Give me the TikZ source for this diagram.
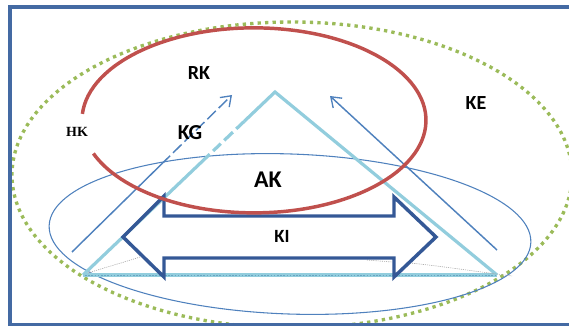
\documentclass[tikz,border=0pt]{standalone}
\usepackage{fontspec}
\setmainfont{Carlito}
\newfontfamily\serifb{Liberation Serif}
\usetikzlibrary{arrows.meta,calc}
\definecolor{frameblue}{RGB}{68,106,163}
\definecolor{kegreen}{RGB}{155,187,89}
\definecolor{rkred}{RGB}{192,80,77}
\definecolor{tribl}{RGB}{146,205,221}
\definecolor{arrdark}{RGB}{52,88,150}
\definecolor{thinbl}{RGB}{79,129,189}
\definecolor{basedot}{RGB}{105,165,195}
\begin{document}
\begin{tikzpicture}[x=0.75pt,y=-0.75pt,
  lbl/.style={font=\bfseries\fontsize{15}{17}\selectfont, inner sep=0pt},
  tristy/.style={draw=tribl, line width=2.4pt, line cap=butt},
  thinarrow/.style={draw=thinbl, line width=1.1pt, -{Straight Barb[length=7pt,width=10pt,line width=1pt]}},
  marks/.style={draw=gray!70, line width=0.45pt, dash pattern=on 0.8pt off 0.8pt}
]
\useasboundingbox (0,0) rectangle (569,328);
\begin{scope}
\clip (0,0) rectangle (569,328);
% outer frame
\draw[frameblue, line width=2.6pt] (10,7) rectangle (620,324.5);
\begin{scope}
\clip (12,9) rectangle (569,322.5);
% KE dotted ellipse
\draw[kegreen, line width=2.5pt, dash pattern=on 2.5pt off 3.1pt] (292,175) ellipse [x radius=280, y radius=153];
\end{scope}
% thin blue ellipse
\draw[thinbl, line width=0.8pt, rotate around={-2:(290,234)}] (290,234) ellipse [x radius=241, y radius=80];
% triangle
\coordinate (tl) at (83,275);
\coordinate (tr) at (497,275);
\coordinate (tt) at (275,92);
\coordinate (p1) at ($(tl)!0.66!(tt)$);
\coordinate (p2) at ($(tl)!0.84!(tt)$);
\draw[tristy] (p2) -- (tt) -- (tr);
\draw[tristy] (tl) -- (p1);
\draw[tristy, dash pattern=on 0pt off 3.5pt on 8pt off 3.5pt on 9pt off 3.5pt on 30pt] (p1) -- (p2);
\draw[tristy] (tl) -- (tr);
\draw[basedot, line width=0.5pt, dash pattern=on 1.2pt off 1.2pt] (85,275) -- (495,275);
% small gray marks near base
\draw[marks] (88,273) .. controls (110,266) and (125,262) .. (140,257);
\draw[marks] (367,260) -- (392,262);
\draw[marks] (410,263) .. controls (440,266) and (465,270) .. (512,276);
% KG arrow (solid then dashed)
\coordinate (kga) at (72,252);
\coordinate (kgb) at (232,95);
\coordinate (kgm) at ($(kga)!0.56!(kgb)$);
\draw[thinbl, line width=1.1pt] (kga) -- (kgm);
\draw[thinarrow, dash pattern=on 9pt off 3pt] (kgm) -- (kgb);
% right arrow
\coordinate (ra) at (497,250);
\coordinate (rb) at (330,96);
\draw[thinarrow] (ra) -- (rb);
% KI double arrow
\draw[arrdark, line width=2.6pt, line join=miter]
  (123,237) -- (164,196) -- (164,216) -- (394,216) -- (394,197) -- (436,237)
  -- (394,277) -- (394,258) -- (164,258) -- (164,277) -- cycle;
% red RK arc
\draw[rkred, line width=2.6pt] (82.4,113.9) arc[start angle=184, end angle=519, x radius=172, y radius=92.5];
\end{scope}
% labels
\node[lbl] (rk) at (199,73) {RK};
\node[lbl, font=\bfseries\fontsize{16}{18}\selectfont] (kg) at (190,133) {KG};
\node[inner sep=0pt, font=\serifb\bfseries\fontsize{10.5}{12}\selectfont] (hk) at (77,131.5) {HK};
\node[lbl] (ke) at (476,103) {KE};
\node[lbl, font=\bfseries\fontsize{18}{20}\selectfont] (ak) at (268,180) {AK};
\node[lbl, font=\bfseries\fontsize{14}{16}\selectfont] (ki) at (282,236) {KI};
\end{tikzpicture}
\end{document}
